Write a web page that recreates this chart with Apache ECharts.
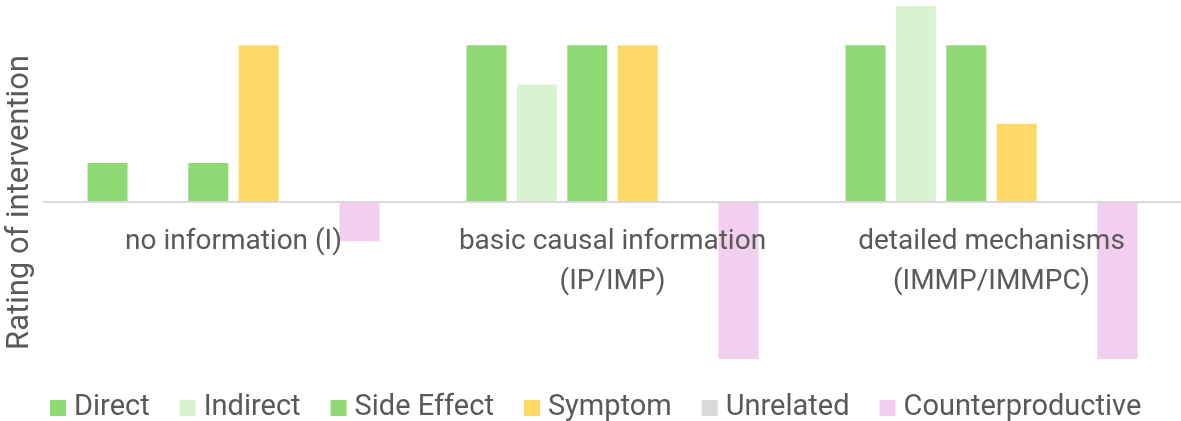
<!DOCTYPE html>
<html lang="en">
<head>
    <meta charset="UTF-8">
    <title>Rating of intervention</title>
    <script src="https://cdn.jsdelivr.net/npm/echarts@6/dist/echarts.min.js"></script>
</head>
<body style="margin:0">
    <div id="chart" style="width:1181px;height:421px;"></div>
    <script>
        // categories and ratings
        var categories = ['no information (I)', 'basic causal information\n(IP/IMP)', 'detailed mechanisms\n(IMMP/IMMPC)'];
        var direct = [1, 4, 4];
        var indirect = [0, 3, 5];
        var sideEffect = [1, 4, 4];
        var symptom = [4, 4, 2];
        var unrelated = [0, 0, 0];
        var counterproductive = [-1, -4, -4];

        var names = ['Direct', 'Indirect', 'Side Effect', 'Symptom', 'Unrelated', 'Counterproductive'];
        var colors = ['#8ED973', '#D9F2D0', '#8ED973', '#FFD966', '#D9D9D9', '#F2CEEF'];
        var values = [direct, indirect, sideEffect, symptom, unrelated, counterproductive];

        var font = 'Roboto, sans-serif';
        var series = names.map(function (n, i) {
            return {
                name: n,
                type: 'bar',
                data: values[i],
                barWidth: 40,
                barGap: '26%',
                itemStyle: { color: colors[i] },
                animation: false
            };
        });

        var myChart = echarts.init(document.getElementById('chart'));
        myChart.setOption({
            color: colors,
            grid: { left: 44, right: 0, top: 6, bottom: 62, outerBoundsMode: 'none' },
            legend: {
                top: 387,
                left: 45,
                itemWidth: 16,
                itemHeight: 16,
                itemGap: 30,
                icon: 'rect',
                textStyle: { color: '#595959', fontSize: 29, lineHeight: 32, fontFamily: font, padding: [0, 0, 0, 3] },
                data: names
            },
            xAxis: {
                type: 'category',
                data: categories,
                offset: -157,
                z: 5,
                axisLine: { onZero: false, lineStyle: { color: '#D9D9D9', width: 2 } },
                axisTick: { show: false },
                axisLabel: {
                    color: '#595959', fontSize: 28, fontFamily: font,
                    lineHeight: 40, margin: 20, interval: 0
                }
            },
            yAxis: {
                type: 'value',
                min: -4,
                max: 5,
                name: 'Rating of intervention',
                nameLocation: 'middle',
                nameGap: 8,
                nameTextStyle: { color: '#595959', fontSize: 31, fontFamily: font, padding: [0, 40, 0, 0] },
                axisLabel: { show: false },
                axisLine: { show: false },
                axisTick: { show: false },
                splitLine: { show: false }
            },
            series: series
        });
    </script>
</body>
</html>
